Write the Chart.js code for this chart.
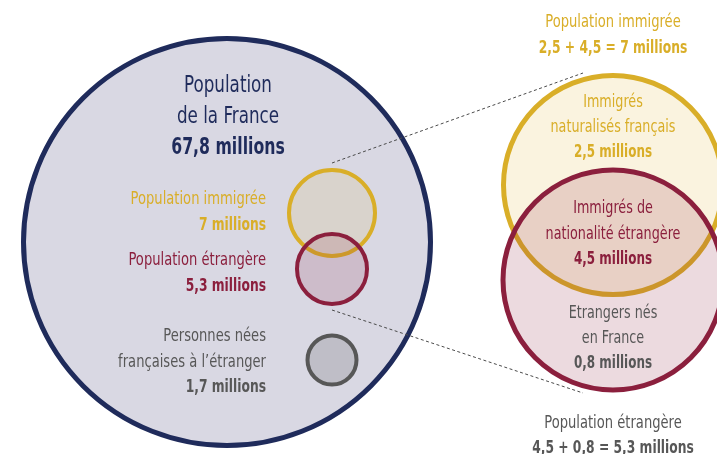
<!DOCTYPE html>
<html lang="fr">
<head>
<meta charset="utf-8">
<title>Population immigrée et étrangère en France</title>
<script src="https://cdn.jsdelivr.net/npm/chart.js@4/dist/chart.umd.min.js"></script>
<style>
  html, body { margin: 0; padding: 0; background: #ffffff; }
  #wrap { width: 717px; height: 454px; }
</style>
</head>
<body>
<div id="wrap"><canvas id="chart" width="717" height="454"></canvas></div>
<script>
/* ============ DATA (millions) ============ */
const francePop = 67.8;
const immigresTotal = 7;
const etrangersTotal = 5.3;
const francaisNesEtranger = 1.7;
const naturalises = 2.5;
const immigresEtrangers = 4.5;
const etrangersNesFrance = 0.8;

const circleNames = [
  'Population de la France',
  'Population immigrée',
  'Population étrangère',
  'Personnes nées françaises à l’étranger',
  'Population immigrée (détail)',
  'Population étrangère (détail)',
];

/* ============ LAYOUT (diagram units = px) ============ */
const circleX = [227, 332, 332, 332, 613, 613];
const circleY = [242, 213, 269, 360, 185, 280];
const circleR = [203.5, 43, 35, 24.5, 109.5, 110];
const circleBorder = [5, 4, 4, 4, 5, 5];

const NAVY = '#1f2b5b';
const GOLD = '#d9ae28';
const RED = '#8b1f3d';
const GREY = '#575757';

const circleFill = [
  '#d9d8e3',
  'rgba(219,177,43,0.12)',
  'rgba(139,31,61,0.15)',
  'rgba(90,90,90,0.2)',
  'rgba(219,177,43,0.15)',
  'rgba(139,31,61,0.165)',
];
const circleStroke = [NAVY, GOLD, RED, GREY, GOLD, RED];

const fmt = (v) => String(v).replace('.', ',');
const mil = (v) => `${fmt(v)} millions`;

// text blocks, last line bold
const textBlocks = [
  { lines: ['Population', 'de la France', mil(francePop)], x: 228, y: 92, step: 31, size: 23, align: 'center', color: NAVY },
  { lines: ['Population immigrée', mil(immigresTotal)], x: 266, y: 204, step: 26, size: 18, align: 'right', color: GOLD },
  { lines: ['Population étrangère', mil(etrangersTotal)], x: 266, y: 265, step: 26, size: 18, align: 'right', color: RED },
  { lines: ['Personnes nées', 'françaises à l’étranger', mil(francaisNesEtranger)], x: 266, y: 341, step: 25.5, size: 18, align: 'right', color: GREY },
  { lines: ['Population immigrée', `${fmt(naturalises)} + ${fmt(immigresEtrangers)} = ${mil(immigresTotal)}`], x: 613, y: 27, step: 26, size: 18, align: 'center', color: GOLD },
  { lines: ['Immigrés', 'naturalisés français', mil(naturalises)], x: 613, y: 107, step: 25, size: 17.5, align: 'center', color: GOLD },
  { lines: ['Immigrés de', 'nationalité étrangère', mil(immigresEtrangers)], x: 613, y: 213, step: 25.5, size: 17.5, align: 'center', color: RED },
  { lines: ['Etrangers nés', 'en France', mil(etrangersNesFrance)], x: 613, y: 318, step: 25, size: 17.5, align: 'center', color: GREY },
  { lines: ['Population étrangère', `${fmt(immigresEtrangers)} + ${fmt(etrangersNesFrance)} = ${mil(etrangersTotal)}`], x: 613, y: 428, step: 25, size: 18, align: 'center', color: GREY },
];

const FONT = '"DejaVu Sans Condensed", "Liberation Sans Narrow", sans-serif';
// the original uses a condensed face: squeeze the glyphs horizontally
const SQUEEZE = 0.81;
const SQUEEZE_BOLD = 0.76;

/* ============ TEXT PLUGIN ============ */
const labelPlugin = {
  id: 'labels',
  afterDatasetsDraw(chart) {
    const { ctx, scales } = chart;
    textBlocks.forEach((b) => {
      const px = scales.x.getPixelForValue(b.x);
      b.lines.forEach((line, i) => {
        const bold = i === b.lines.length - 1;
        ctx.save();
        ctx.translate(px, scales.y.getPixelForValue(b.y + i * b.step));
        ctx.scale(bold ? SQUEEZE_BOLD : SQUEEZE, 1);
        ctx.textAlign = b.align;
        ctx.textBaseline = 'alphabetic';
        ctx.fillStyle = b.color;
        ctx.font = `${bold ? 'bold ' : ''}${b.size}px ${FONT}`;
        ctx.fillText(line, 0, 0);
        ctx.restore();
      });
    });
  },
};

/* ============ CHART ============ */
const dashLine = (label, pts) => ({
  type: 'line',
  label,
  order: 1,
  clip: false,
  data: pts,
  borderColor: '#4a4a4a',
  borderWidth: 1,
  borderDash: [3, 2.5],
  pointRadius: 0,
});

new Chart(document.getElementById('chart'), {
  type: 'scatter',
  data: {
    datasets: [
      {
        label: 'Cercles',
        order: 2,
        clip: false,
        showLine: false,
        data: circleNames.map((n, i) => ({ x: circleX[i], y: circleY[i] })),
        pointStyle: 'circle',
        pointRadius: circleR,
        pointBackgroundColor: circleFill,
        pointBorderColor: circleStroke,
        pointBorderWidth: circleBorder,
      },
      dashLine('Lien haut', [{ x: 332, y: 163 }, { x: 583, y: 73 }]),
      dashLine('Lien bas', [{ x: 332, y: 310 }, { x: 583, y: 393 }]),
    ],
  },
  options: {
    responsive: false,
    animation: false,
    events: [],
    layout: { padding: 0, autoPadding: false },
    plugins: { legend: { display: false }, tooltip: { enabled: false } },
    scales: {
      x: { type: 'linear', display: false, min: 0, max: 717 },
      y: { type: 'linear', display: false, min: 0, max: 454, reverse: true },
    },
  },
  plugins: [labelPlugin],
});
</script>
</body>
</html>
